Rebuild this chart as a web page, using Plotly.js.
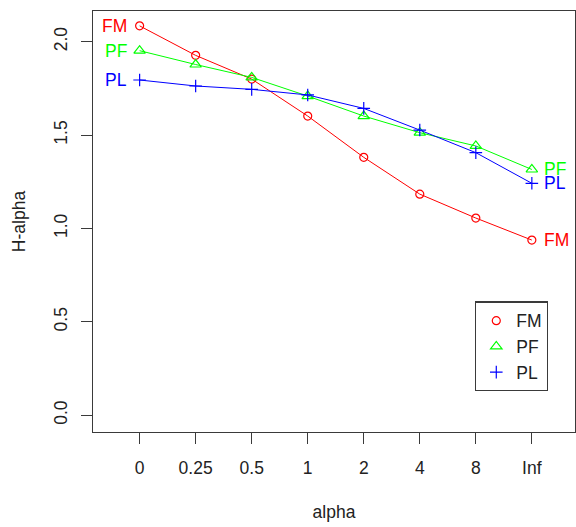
<!DOCTYPE html>
<html>
<head>
<meta charset="utf-8">
<script src="https://cdn.plot.ly/plotly-3.0.1.min.js"></script>
<style>
  html, body { margin: 0; padding: 0; background: #ffffff; }
  #chart { width: 576px; height: 527px; }
</style>
</head>
<body>
<div id="chart"></div>
<script>
// alpha levels on the x axis (equally spaced categories)
const alphaLabels = ['0', '0.25', '0.5', '1', '2', '4', '8', 'Inf'];

// H-alpha estimates for each scheme
const seriesNames = ['FM', 'PF', 'PL'];
const fmValues = [2.085, 1.927, 1.800, 1.602, 1.381, 1.184, 1.056, 0.938];
const pfValues = [1.952, 1.878, 1.809, 1.709, 1.602, 1.513, 1.442, 1.316];
const plValues = [1.795, 1.763, 1.745, 1.715, 1.643, 1.527, 1.406, 1.242];

// y axis ticks
const yTicks = [0, 0.5, 1.0, 1.5, 2.0];

const FONT = 'Liberation Sans, Arial, sans-serif';
const FS = 17.5;
const FRAME = '#3a3a3a';

const styles = [
  { color: '#ff0000', symbol: 'circle-open', size: 8 },
  { color: '#00ff00', symbol: 'triangle-up-open', size: 10 },
  { color: '#0000ff', symbol: 'cross-thin-open', size: 9 }
];
const allValues = [fmValues, pfValues, plValues];

const traces = [];
// lines with point markers
allValues.forEach((vals, i) => {
  const s = styles[i];
  traces.push({
    type: 'scatter',
    mode: 'lines+markers',
    x: alphaLabels,
    y: vals,
    name: seriesNames[i],
    showlegend: false,
    line: { color: s.color, width: 1 },
    marker: { symbol: s.symbol, size: s.size, color: s.color,
              line: { color: s.color, width: 1.2 } },
    hoverinfo: 'x+y+name'
  });
});
// legend entries: symbol only (a single blank point keeps the trace in the legend)
allValues.forEach((vals, i) => {
  const s = styles[i];
  traces.push({
    type: 'scatter',
    mode: 'markers',
    x: [alphaLabels[0]],
    y: [null],
    name: seriesNames[i],
    marker: { symbol: s.symbol, size: s.size, color: s.color,
              line: { color: s.color, width: 1.2 } }
  });
});

// series names written beside the first and last points
const annotations = [];
allValues.forEach((vals, i) => {
  const c = styles[i].color;
  annotations.push({
    x: alphaLabels[0], y: vals[0], xref: 'x', yref: 'y',
    text: seriesNames[i], showarrow: false,
    xanchor: 'right', yanchor: 'middle', xshift: -11,
    font: { family: FONT, size: FS, color: c }
  });
  annotations.push({
    x: alphaLabels[alphaLabels.length - 1], y: vals[vals.length - 1],
    xref: 'x', yref: 'y',
    text: seriesNames[i], showarrow: false,
    xanchor: 'left', yanchor: 'middle', xshift: 10,
    font: { family: FONT, size: FS, color: c }
  });
});

const layout = {
  width: 576,
  height: 527,
  margin: { l: 93, r: 1, t: 11, b: 95 },
  paper_bgcolor: '#ffffff',
  plot_bgcolor: '#ffffff',
  font: { family: FONT, size: FS, color: '#222222' },
  showlegend: true,
  xaxis: {
    type: 'category',
    categoryorder: 'array',
    categoryarray: alphaLabels,
    range: [-0.832, 7.77],
    showgrid: false,
    zeroline: false,
    showline: true,
    mirror: true,
    linecolor: FRAME,
    linewidth: 1.3,
    ticks: 'outside',
    ticklen: 11,
    tickwidth: 1.2,
    tickcolor: FRAME,
    ticklabelstandoff: 9,
    tickfont: { family: FONT, size: FS, color: '#222222' },
    title: { text: 'alpha', font: { family: FONT, size: FS, color: '#222222' }, standoff: 28 }
  },
  yaxis: {
    range: [-0.0895, 2.1645],
    tickvals: yTicks,
    tickformat: '.1f',
    showgrid: false,
    zeroline: false,
    showline: true,
    mirror: true,
    linecolor: FRAME,
    linewidth: 1.3,
    ticks: 'outside',
    ticklen: 11,
    tickwidth: 1.2,
    tickcolor: FRAME,
    tickangle: -90,
    ticklabelstandoff: 7,
    tickfont: { family: FONT, size: FS, color: '#222222' },
    title: { text: 'H-alpha', font: { family: FONT, size: FS, color: '#222222' }, standoff: 20 }
  },
  legend: {
    x: 0.7925, y: 0.310,
    xanchor: 'left', yanchor: 'top',
    bgcolor: '#ffffff',
    bordercolor: FRAME,
    borderwidth: 1.3,
    font: { family: FONT, size: FS, color: '#222222' },
    itemwidth: 30,
    tracegroupgap: 0
  },
  annotations: annotations
};

Plotly.newPlot('chart', traces, layout, { displayModeBar: false, staticPlot: true });
</script>
</body>
</html>
